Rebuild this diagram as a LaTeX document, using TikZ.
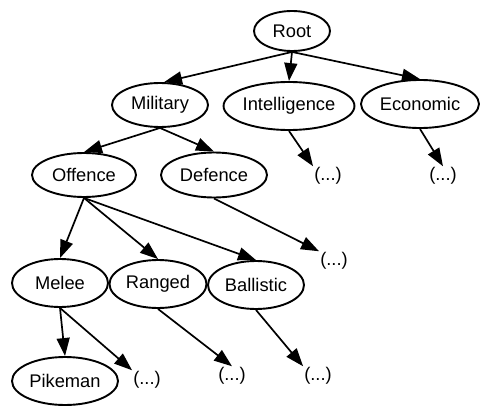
\documentclass[tikz,border=0pt]{standalone}
\usepackage{fontspec}
\setmainfont{Liberation Sans}
\usetikzlibrary{shapes.geometric,arrows.meta}
\begin{document}
\begin{tikzpicture}[x=1pt,y=-1pt,
  every node/.style={font=\fontsize{18.3}{21}\selectfont},
  oval/.style={ellipse,draw,line width=1.9pt,inner sep=0pt},
  more/.style={inner sep=1pt},
  arr/.style={line width=1.7pt,-{Triangle[length=18pt,width=13pt]}}]
\useasboundingbox (0,0) rectangle (481,409);
\node[oval,minimum width=76pt,minimum height=40pt] (root) at (292,31) {Root};
\node[oval,minimum width=96pt,minimum height=44pt] (mil) at (160,105) {Military};
\node[oval,minimum width=126pt,minimum height=48pt] (int) at (289,106) {Intelligence};
\node[oval,minimum width=118pt,minimum height=48pt] (eco) at (420,104) {Economic};
\node[oval,minimum width=104pt,minimum height=44pt] (off) at (84,175) {Offence};
\node[oval,minimum width=106pt,minimum height=45pt] (def) at (214,175) {Defence};
\node[oval,minimum width=96pt,minimum height=48pt] (mel) at (60,283) {Melee};
\node[oval,minimum width=97pt,minimum height=48pt] (ran) at (158,284) {Ranged};
\node[oval,minimum width=96pt,minimum height=48pt] (bal) at (256,285) {Ballistic};
\node[oval,minimum width=106pt,minimum height=48pt] (pik) at (65,381) {Pikeman};
\node[more] (i1) at (328,176) {(...)};
\node[more] (e1) at (443,176) {(...)};
\node[more] (d1) at (334,261) {(...)};
\node[more] (m1) at (147,380) {(...)};
\node[more] (r1) at (232,376) {(...)};
\node[more] (b1) at (318,376) {(...)};
\draw[arr] (root.south) -- (mil.80);
\draw[arr] (root.south) -- (int.north);
\draw[arr] (root.south) -- (eco.north);
\draw[arr] (mil.south) -- (off.north);
\draw[arr] (mil.south) -- (def.north);
\draw[arr] (int.south) -- (i1.north west);
\draw[arr] (eco.south) -- (e1.north);
\draw[arr] (off.south) -- (mel.north);
\draw[arr] (off.south) -- (ran.north);
\draw[arr] (off.south) -- (bal.north);
\draw[arr] (def.south) -- (d1.north west);
\draw[arr] (mel.south) -- (pik.north);
\draw[arr] (mel.south) -- (m1.north west);
\draw[arr] (ran.south) -- (r1.north);
\draw[arr] (bal.south) -- (b1.north west);
\end{tikzpicture}
\end{document}
